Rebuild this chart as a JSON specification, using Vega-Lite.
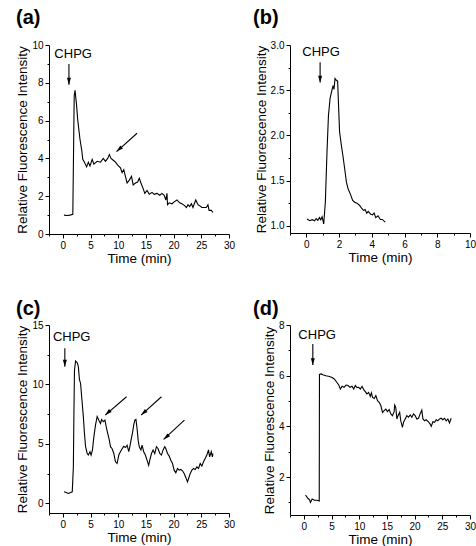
{
  "$schema": "https://vega.github.io/schema/vega-lite/v6.json",
  "padding": {"left": 15, "top": 8, "right": 0, "bottom": 0},
  "background": "white",
  "config": {
    "view": {"stroke": null},
    "font": "Liberation Sans",
    "axis": {"grid": false, "domainColor": "black", "tickColor": "black", "labelColor": "black", "titleColor": "black", "labelFont": "Liberation Sans", "titleFont": "Liberation Sans", "labelFontSize": 10, "titleFontSize": 13.5, "titleFontWeight": "normal", "labelPadding": 2, "titlePadding": 2, "domainWidth": 1, "tickWidth": 1, "labelOverlap": false, "labelFlush": false, "labelBound": false, "tickCount": 100},
    "axisX": {"titlePadding": 1},
    "title": {"font": "Liberation Sans", "fontSize": 20, "fontWeight": "bold", "anchor": "start", "frame": "group", "color": "black"}
  },
  "columns": 2,
  "bounds": "flush",
  "spacing": {"row": 91, "column": 61},
  "datasets": {
    "a": [{"t":0.2,"v":1.0},{"t":0.8,"v":0.98},{"t":1.3,"v":1.0},{"t":1.8,"v":1.04},{"t":2.05,"v":7.3},{"t":2.2,"v":7.6},{"t":2.45,"v":6.9},{"t":2.7,"v":6.0},{"t":3.1,"v":5.0},{"t":3.4,"v":4.45},{"t":3.6,"v":3.95},{"t":3.9,"v":3.8},{"t":4.3,"v":3.55},{"t":4.6,"v":3.8},{"t":4.9,"v":3.6},{"t":5.3,"v":3.95},{"t":5.6,"v":3.7},{"t":6.2,"v":3.85},{"t":6.8,"v":3.8},{"t":7.3,"v":4.0},{"t":7.7,"v":3.85},{"t":8.1,"v":4.0},{"t":8.4,"v":4.2},{"t":8.7,"v":4.0},{"t":9.1,"v":3.9},{"t":9.5,"v":3.8},{"t":9.9,"v":3.65},{"t":10.4,"v":3.5},{"t":10.7,"v":3.25},{"t":11.0,"v":3.4},{"t":11.3,"v":3.05},{"t":11.6,"v":2.7},{"t":12.0,"v":2.85},{"t":12.4,"v":3.05},{"t":12.7,"v":2.6},{"t":13.1,"v":2.7},{"t":13.5,"v":2.75},{"t":13.8,"v":2.95},{"t":14.1,"v":2.7},{"t":14.5,"v":2.4},{"t":14.8,"v":2.15},{"t":15.2,"v":2.3},{"t":15.6,"v":2.1},{"t":16.1,"v":2.2},{"t":16.5,"v":2.1},{"t":17.0,"v":2.15},{"t":17.5,"v":2.05},{"t":17.9,"v":2.15},{"t":18.3,"v":2.05},{"t":18.6,"v":1.8},{"t":18.8,"v":2.15},{"t":18.9,"v":1.55},{"t":19.2,"v":1.65},{"t":19.7,"v":1.6},{"t":20.1,"v":1.7},{"t":20.6,"v":1.8},{"t":21.1,"v":1.65},{"t":21.5,"v":1.6},{"t":22.0,"v":1.5},{"t":22.3,"v":1.4},{"t":22.6,"v":1.55},{"t":22.9,"v":1.45},{"t":23.2,"v":1.6},{"t":23.5,"v":1.4},{"t":23.8,"v":1.65},{"t":24.0,"v":1.8},{"t":24.4,"v":1.55},{"t":24.7,"v":1.5},{"t":25.1,"v":1.4},{"t":25.6,"v":1.4},{"t":25.9,"v":1.4},{"t":26.2,"v":1.55},{"t":26.4,"v":1.25},{"t":26.8,"v":1.25},{"t":27.1,"v":1.15}],
    "b": [{"t":0.04,"v":1.074},{"t":0.2,"v":1.056},{"t":0.36,"v":1.067},{"t":0.5,"v":1.056},{"t":0.6,"v":1.08},{"t":0.7,"v":1.06},{"t":0.8,"v":1.09},{"t":0.88,"v":1.067},{"t":0.96,"v":1.1},{"t":1.06,"v":1.02},{"t":1.16,"v":1.26},{"t":1.26,"v":1.81},{"t":1.35,"v":2.22},{"t":1.45,"v":2.41},{"t":1.55,"v":2.49},{"t":1.63,"v":2.55},{"t":1.69,"v":2.51},{"t":1.75,"v":2.63},{"t":1.83,"v":2.61},{"t":1.91,"v":2.6},{"t":2.03,"v":2.04},{"t":2.13,"v":1.9},{"t":2.23,"v":1.78},{"t":2.35,"v":1.62},{"t":2.45,"v":1.48},{"t":2.55,"v":1.41},{"t":2.69,"v":1.35},{"t":2.83,"v":1.28},{"t":2.95,"v":1.26},{"t":3.09,"v":1.25},{"t":3.23,"v":1.23},{"t":3.35,"v":1.2},{"t":3.49,"v":1.17},{"t":3.59,"v":1.18},{"t":3.69,"v":1.14},{"t":3.78,"v":1.16},{"t":3.92,"v":1.13},{"t":4.04,"v":1.12},{"t":4.14,"v":1.14},{"t":4.24,"v":1.09},{"t":4.38,"v":1.11},{"t":4.52,"v":1.07},{"t":4.64,"v":1.07},{"t":4.82,"v":1.04}],
    "c": [{"t":0.2,"v":0.98},{"t":0.6,"v":0.93},{"t":1.0,"v":0.84},{"t":1.4,"v":0.93},{"t":1.7,"v":0.98},{"t":1.9,"v":3.1},{"t":2.0,"v":7.6},{"t":2.1,"v":11.2},{"t":2.3,"v":11.97},{"t":2.6,"v":11.83},{"t":2.8,"v":11.5},{"t":3.0,"v":10.4},{"t":3.2,"v":10.1},{"t":3.4,"v":8.97},{"t":3.7,"v":7.3},{"t":3.9,"v":5.9},{"t":4.1,"v":4.77},{"t":4.4,"v":4.2},{"t":4.6,"v":4.07},{"t":4.9,"v":4.35},{"t":5.1,"v":4.07},{"t":5.35,"v":4.5},{"t":5.6,"v":5.6},{"t":5.9,"v":6.6},{"t":6.2,"v":7.3},{"t":6.5,"v":7.0},{"t":6.8,"v":6.73},{"t":7.0,"v":7.06},{"t":7.3,"v":6.87},{"t":7.6,"v":7.0},{"t":7.9,"v":6.3},{"t":8.1,"v":5.9},{"t":8.4,"v":5.3},{"t":8.6,"v":4.77},{"t":8.9,"v":4.6},{"t":9.2,"v":4.2},{"t":9.5,"v":3.5},{"t":9.8,"v":3.36},{"t":10.1,"v":4.07},{"t":10.4,"v":4.35},{"t":10.7,"v":4.6},{"t":11.0,"v":4.8},{"t":11.3,"v":4.7},{"t":11.6,"v":4.9},{"t":11.9,"v":4.35},{"t":12.1,"v":4.77},{"t":12.3,"v":5.3},{"t":12.6,"v":6.0},{"t":12.8,"v":6.6},{"t":13.0,"v":7.0},{"t":13.2,"v":7.06},{"t":13.4,"v":6.3},{"t":13.6,"v":5.3},{"t":13.8,"v":4.77},{"t":14.1,"v":4.5},{"t":14.3,"v":4.9},{"t":14.6,"v":4.35},{"t":14.9,"v":4.07},{"t":15.2,"v":3.64},{"t":15.5,"v":3.2},{"t":15.7,"v":3.64},{"t":16.0,"v":4.2},{"t":16.3,"v":4.5},{"t":16.6,"v":4.2},{"t":16.9,"v":4.77},{"t":17.2,"v":4.6},{"t":17.5,"v":4.2},{"t":17.8,"v":4.07},{"t":18.1,"v":4.5},{"t":18.4,"v":4.77},{"t":18.6,"v":4.6},{"t":18.9,"v":4.2},{"t":19.2,"v":3.98},{"t":19.5,"v":3.64},{"t":19.8,"v":3.36},{"t":20.1,"v":2.8},{"t":20.4,"v":2.58},{"t":20.7,"v":2.94},{"t":21.0,"v":2.8},{"t":21.3,"v":2.86},{"t":21.6,"v":2.75},{"t":21.9,"v":2.52},{"t":22.2,"v":2.19},{"t":22.5,"v":1.82},{"t":22.7,"v":2.1},{"t":23.0,"v":2.52},{"t":23.3,"v":2.8},{"t":23.6,"v":2.94},{"t":23.9,"v":2.86},{"t":24.2,"v":3.08},{"t":24.5,"v":2.94},{"t":24.8,"v":3.36},{"t":25.1,"v":3.14},{"t":25.4,"v":3.5},{"t":25.7,"v":3.78},{"t":26.0,"v":4.07},{"t":26.3,"v":4.5},{"t":26.5,"v":3.92},{"t":26.8,"v":4.35},{"t":27.0,"v":3.92},{"t":27.1,"v":4.2}],
    "d": [{"t":0.3,"v":1.29},{"t":0.72,"v":1.16},{"t":1.02,"v":1.1},{"t":1.2,"v":1.0},{"t":1.5,"v":1.13},{"t":1.92,"v":1.08},{"t":2.34,"v":1.08},{"t":2.78,"v":1.05},{"t":2.82,"v":6.05},{"t":3.12,"v":6.07},{"t":3.54,"v":6.03},{"t":4.0,"v":6.0},{"t":4.62,"v":5.97},{"t":5.1,"v":5.93},{"t":5.5,"v":5.87},{"t":5.94,"v":5.74},{"t":6.3,"v":5.63},{"t":6.6,"v":5.47},{"t":6.9,"v":5.58},{"t":7.26,"v":5.54},{"t":7.62,"v":5.63},{"t":7.98,"v":5.61},{"t":8.34,"v":5.54},{"t":8.7,"v":5.58},{"t":9.0,"v":5.47},{"t":9.3,"v":5.61},{"t":9.6,"v":5.53},{"t":9.9,"v":5.54},{"t":10.2,"v":5.47},{"t":10.5,"v":5.58},{"t":10.8,"v":5.45},{"t":11.1,"v":5.37},{"t":11.4,"v":5.28},{"t":11.7,"v":5.34},{"t":12.0,"v":5.18},{"t":12.2,"v":5.32},{"t":12.4,"v":5.14},{"t":12.7,"v":5.1},{"t":13.0,"v":5.21},{"t":13.3,"v":5.01},{"t":13.6,"v":4.95},{"t":13.9,"v":4.82},{"t":14.2,"v":4.55},{"t":14.5,"v":4.62},{"t":14.8,"v":4.68},{"t":15.1,"v":4.58},{"t":15.4,"v":4.66},{"t":15.7,"v":4.49},{"t":16.0,"v":4.42},{"t":16.3,"v":4.58},{"t":16.4,"v":4.84},{"t":16.6,"v":4.75},{"t":16.8,"v":4.29},{"t":17.0,"v":4.42},{"t":17.3,"v":4.55},{"t":17.5,"v":4.22},{"t":17.8,"v":3.96},{"t":18.0,"v":4.16},{"t":18.3,"v":4.29},{"t":18.6,"v":4.42},{"t":18.9,"v":4.36},{"t":19.2,"v":4.45},{"t":19.5,"v":4.36},{"t":19.8,"v":4.49},{"t":20.1,"v":4.42},{"t":20.4,"v":4.29},{"t":20.7,"v":4.32},{"t":21.0,"v":4.49},{"t":21.3,"v":4.64},{"t":21.5,"v":4.29},{"t":21.8,"v":4.22},{"t":22.1,"v":4.26},{"t":22.5,"v":4.18},{"t":22.8,"v":4.09},{"t":23.0,"v":4.0},{"t":23.3,"v":4.18},{"t":23.6,"v":4.16},{"t":23.9,"v":4.26},{"t":24.2,"v":4.22},{"t":24.5,"v":4.29},{"t":24.8,"v":4.32},{"t":25.1,"v":4.26},{"t":25.4,"v":4.32},{"t":25.7,"v":4.22},{"t":26.0,"v":4.29},{"t":26.3,"v":4.13},{"t":26.6,"v":4.32}],
    "arrows": [
      {"p":"a","k":"v","x":1.1,"y":9.0,"x2":1.1,"y2":7.9},
      {"p":"a","k":"d","x":13.4,"y":5.33,"x2":9.7,"y2":4.36},
      {"p":"b","k":"v","x":0.84,"y":2.81,"x2":0.84,"y2":2.585},
      {"p":"c","k":"v","x":0.36,"y":13.04,"x2":0.36,"y2":11.5},
      {"p":"c","k":"d","x":11.5,"y":8.97,"x2":7.65,"y2":7.43},
      {"p":"c","k":"d","x":17.8,"y":8.97,"x2":14.13,"y2":7.43},
      {"p":"c","k":"d","x":21.95,"y":7.0,"x2":18.2,"y2":5.38},
      {"p":"d","k":"v","x":1.62,"y":7.25,"x2":1.62,"y2":6.42}
    ],
    "labels": [
      {"p":"a","x":1.86,"y":9.54,"text":"CHPG"},
      {"p":"b","x":0.9,"y":2.92,"text":"CHPG"},
      {"p":"c","x":1.6,"y":13.96,"text":"CHPG"},
      {"p":"d","x":2.4,"y":7.59,"text":"CHPG"}
    ]
  },
  "concat": [
    {
      "width": 180, "height": 189,
      "title": {"text": "(a)", "dx": -33, "offset": 12},
      "layer": [
        {"data": {"name": "a"}, "mark": {"type": "line", "color": "black", "strokeWidth": 1.1},
         "encoding": {
           "x": {"field": "t", "type": "quantitative", "title": "Time (min)", "scale": {"domain": [-2.5, 30], "nice": false, "zero": false},
                 "axis": {"values": [-2.5,0,2.5,5,7.5,10,12.5,15,17.5,20,22.5,25,27.5,30], "tickCount": 100, "format": ".0f", "labelOverlap": false, "labelExpr": "datum.value % 5 === 0 ? datum.label : ''", "tickSize": {"condition": {"test": "datum.value % 5 === 0", "value": 4}, "value": 2}}},
           "y": {"field": "v", "type": "quantitative", "title": "Relative Fluorescence Intensity", "scale": {"domain": [0, 10], "nice": false, "zero": false},
                 "axis": {"values": [0,1,2,3,4,5,6,7,8,9,10], "tickCount": 100, "format": ".0f", "labelOverlap": false, "labelExpr": "datum.value % 2 === 0 ? datum.label : ''", "tickSize": {"condition": {"test": "datum.value % 2 === 0", "value": 4}, "value": 2}}}
         }},
        {"data": {"name": "arrows"}, "transform": [{"filter": "datum.p === 'a'"}], "mark": {"type": "rule", "color": "black", "strokeWidth": 1.1},
         "encoding": {"x": {"field": "x", "type": "quantitative", "title": "Time (min)"}, "y": {"field": "y", "type": "quantitative", "title": "Relative Fluorescence Intensity"}, "x2": {"field": "x2"}, "y2": {"field": "y2"}}},
        {"data": {"name": "arrows"}, "transform": [{"filter": "datum.p === 'a' && datum.k === 'v'"}], "mark": {"type": "point", "shape": "M0,0L-0.35,-1.2L0.35,-1.2Z", "filled": true, "color": "black", "opacity": 1, "size": 130, "strokeWidth": 0},
         "encoding": {"x": {"field": "x2", "type": "quantitative", "title": "Time (min)"}, "y": {"field": "y2", "type": "quantitative", "title": "Relative Fluorescence Intensity"}}},
        {"data": {"name": "arrows"}, "transform": [{"filter": "datum.p === 'a' && datum.k === 'd'"}], "mark": {"type": "point", "shape": "M0,0L-0.35,-1.2L0.35,-1.2Z", "filled": true, "color": "black", "opacity": 1, "size": 130, "strokeWidth": 0, "angle": 48},
         "encoding": {"x": {"field": "x2", "type": "quantitative", "title": "Time (min)"}, "y": {"field": "y2", "type": "quantitative", "title": "Relative Fluorescence Intensity"}}},
        {"data": {"name": "labels"}, "transform": [{"filter": "datum.p === 'a'"}], "mark": {"type": "text", "fontSize": 13, "font": "Liberation Sans", "color": "black", "align": "center", "baseline": "middle"},
         "encoding": {"x": {"field": "x", "type": "quantitative", "title": "Time (min)"}, "y": {"field": "y", "type": "quantitative", "title": "Relative Fluorescence Intensity"}, "text": {"field": "text"}}}
      ]
    },
    {
      "width": 180, "height": 188,
      "title": {"text": "(b)", "dx": -37, "offset": 12},
      "layer": [
        {"data": {"name": "b"}, "mark": {"type": "line", "color": "black", "strokeWidth": 1.1},
         "encoding": {
           "x": {"field": "t", "type": "quantitative", "title": "Time (min)", "scale": {"domain": [-1, 10], "nice": false, "zero": false},
                 "axis": {"values": [-1,0,1,2,3,4,5,6,7,8,9,10], "tickCount": 100, "format": ".0f", "labelOverlap": false, "labelExpr": "datum.value % 2 === 0 ? datum.label : ''", "tickSize": {"condition": {"test": "datum.value % 2 === 0", "value": 4}, "value": 2}}},
           "y": {"field": "v", "type": "quantitative", "title": "Relative Fluorescence Intensity", "scale": {"domain": [0.92, 3], "nice": false, "zero": false},
                 "axis": {"values": [1,1.25,1.5,1.75,2,2.25,2.5,2.75,3], "tickCount": 100, "format": ".1f", "labelOverlap": false, "labelExpr": "datum.value % 0.5 === 0 ? datum.label : ''", "tickSize": {"condition": {"test": "datum.value % 0.5 === 0", "value": 4}, "value": 2}}}
         }},
        {"data": {"name": "arrows"}, "transform": [{"filter": "datum.p === 'b'"}], "mark": {"type": "rule", "color": "black", "strokeWidth": 1.1},
         "encoding": {"x": {"field": "x", "type": "quantitative", "title": "Time (min)"}, "y": {"field": "y", "type": "quantitative", "title": "Relative Fluorescence Intensity"}, "x2": {"field": "x2"}, "y2": {"field": "y2"}}},
        {"data": {"name": "arrows"}, "transform": [{"filter": "datum.p === 'b' && datum.k === 'v'"}], "mark": {"type": "point", "shape": "M0,0L-0.35,-1.2L0.35,-1.2Z", "filled": true, "color": "black", "opacity": 1, "size": 130, "strokeWidth": 0},
         "encoding": {"x": {"field": "x2", "type": "quantitative", "title": "Time (min)"}, "y": {"field": "y2", "type": "quantitative", "title": "Relative Fluorescence Intensity"}}},
        {"data": {"name": "labels"}, "transform": [{"filter": "datum.p === 'b'"}], "mark": {"type": "text", "fontSize": 13, "font": "Liberation Sans", "color": "black", "align": "center", "baseline": "middle"},
         "encoding": {"x": {"field": "x", "type": "quantitative", "title": "Time (min)"}, "y": {"field": "y", "type": "quantitative", "title": "Relative Fluorescence Intensity"}, "text": {"field": "text"}}}
      ]
    },
    {
      "width": 180, "height": 188,
      "title": {"text": "(c)", "dx": -33, "offset": 1},
      "layer": [
        {"data": {"name": "c"}, "mark": {"type": "line", "color": "black", "strokeWidth": 1.1},
         "encoding": {
           "x": {"field": "t", "type": "quantitative", "title": "Time (min)", "scale": {"domain": [-2.5, 30], "nice": false, "zero": false},
                 "axis": {"values": [-2.5,0,2.5,5,7.5,10,12.5,15,17.5,20,22.5,25,27.5,30], "tickCount": 100, "format": ".0f", "labelOverlap": false, "labelExpr": "datum.value % 5 === 0 ? datum.label : ''", "tickSize": {"condition": {"test": "datum.value % 5 === 0", "value": 4}, "value": 2}}},
           "y": {"field": "v", "type": "quantitative", "title": "Relative Fluorescence Intensity", "scale": {"domain": [-0.8, 15], "nice": false, "zero": false},
                 "axis": {"values": [0,2.5,5,7.5,10,12.5,15], "tickCount": 100, "format": ".0f", "labelOverlap": false, "labelExpr": "datum.value % 5 === 0 ? datum.label : ''", "tickSize": {"condition": {"test": "datum.value % 5 === 0", "value": 4}, "value": 2}}}
         }},
        {"data": {"name": "arrows"}, "transform": [{"filter": "datum.p === 'c'"}], "mark": {"type": "rule", "color": "black", "strokeWidth": 1.1},
         "encoding": {"x": {"field": "x", "type": "quantitative", "title": "Time (min)"}, "y": {"field": "y", "type": "quantitative", "title": "Relative Fluorescence Intensity"}, "x2": {"field": "x2"}, "y2": {"field": "y2"}}},
        {"data": {"name": "arrows"}, "transform": [{"filter": "datum.p === 'c' && datum.k === 'v'"}], "mark": {"type": "point", "shape": "M0,0L-0.35,-1.2L0.35,-1.2Z", "filled": true, "color": "black", "opacity": 1, "size": 130, "strokeWidth": 0},
         "encoding": {"x": {"field": "x2", "type": "quantitative", "title": "Time (min)"}, "y": {"field": "y2", "type": "quantitative", "title": "Relative Fluorescence Intensity"}}},
        {"data": {"name": "arrows"}, "transform": [{"filter": "datum.p === 'c' && datum.k === 'd'"}], "mark": {"type": "point", "shape": "M0,0L-0.35,-1.2L0.35,-1.2Z", "filled": true, "color": "black", "opacity": 1, "size": 130, "strokeWidth": 0, "angle": 48},
         "encoding": {"x": {"field": "x2", "type": "quantitative", "title": "Time (min)"}, "y": {"field": "y2", "type": "quantitative", "title": "Relative Fluorescence Intensity"}}},
        {"data": {"name": "labels"}, "transform": [{"filter": "datum.p === 'c'"}], "mark": {"type": "text", "fontSize": 13, "font": "Liberation Sans", "color": "black", "align": "center", "baseline": "middle"},
         "encoding": {"x": {"field": "x", "type": "quantitative", "title": "Time (min)"}, "y": {"field": "y", "type": "quantitative", "title": "Relative Fluorescence Intensity"}, "text": {"field": "text"}}}
      ]
    },
    {
      "width": 180, "height": 190,
      "title": {"text": "(d)", "dx": -37, "offset": 1},
      "layer": [
        {"data": {"name": "d"}, "mark": {"type": "line", "color": "black", "strokeWidth": 1.1},
         "encoding": {
           "x": {"field": "t", "type": "quantitative", "title": "Time (min)", "scale": {"domain": [-2.5, 30], "nice": false, "zero": false},
                 "axis": {"values": [-2.5,0,2.5,5,7.5,10,12.5,15,17.5,20,22.5,25,27.5,30], "tickCount": 100, "format": ".0f", "labelOverlap": false, "labelExpr": "datum.value % 5 === 0 ? datum.label : ''", "tickSize": {"condition": {"test": "datum.value % 5 === 0", "value": 4}, "value": 2}}},
           "y": {"field": "v", "type": "quantitative", "title": "Relative Fluorescence Intensity", "scale": {"domain": [0.5, 8], "nice": false, "zero": false},
                 "axis": {"values": [1,2,3,4,5,6,7,8], "tickCount": 100, "format": ".0f", "labelOverlap": false, "labelExpr": "datum.value % 2 === 0 ? datum.label : ''", "tickSize": {"condition": {"test": "datum.value % 2 === 0", "value": 4}, "value": 2}}}
         }},
        {"data": {"name": "arrows"}, "transform": [{"filter": "datum.p === 'd'"}], "mark": {"type": "rule", "color": "black", "strokeWidth": 1.1},
         "encoding": {"x": {"field": "x", "type": "quantitative", "title": "Time (min)"}, "y": {"field": "y", "type": "quantitative", "title": "Relative Fluorescence Intensity"}, "x2": {"field": "x2"}, "y2": {"field": "y2"}}},
        {"data": {"name": "arrows"}, "transform": [{"filter": "datum.p === 'd' && datum.k === 'v'"}], "mark": {"type": "point", "shape": "M0,0L-0.35,-1.2L0.35,-1.2Z", "filled": true, "color": "black", "opacity": 1, "size": 130, "strokeWidth": 0},
         "encoding": {"x": {"field": "x2", "type": "quantitative", "title": "Time (min)"}, "y": {"field": "y2", "type": "quantitative", "title": "Relative Fluorescence Intensity"}}},
        {"data": {"name": "labels"}, "transform": [{"filter": "datum.p === 'd'"}], "mark": {"type": "text", "fontSize": 13, "font": "Liberation Sans", "color": "black", "align": "center", "baseline": "middle"},
         "encoding": {"x": {"field": "x", "type": "quantitative", "title": "Time (min)"}, "y": {"field": "y", "type": "quantitative", "title": "Relative Fluorescence Intensity"}, "text": {"field": "text"}}}
      ]
    }
  ]
}
